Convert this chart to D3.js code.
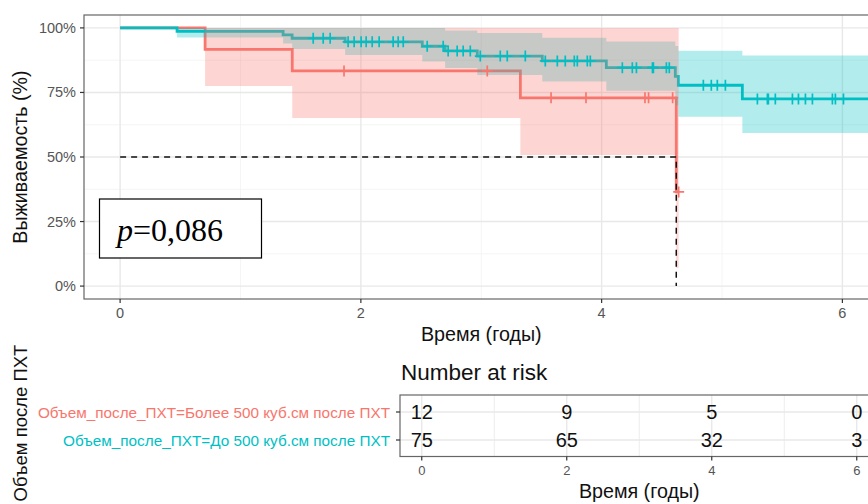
<!DOCTYPE html>
<html><head><meta charset="utf-8">
<script src="https://cdn.jsdelivr.net/npm/d3@7"></script>
<style>body{margin:0;background:#fff} svg{display:block}</style>
</head><body>
<svg id="c" width="868" height="504"></svg>
<script>
// ---------- data ----------
const strata = ["Объем_после_ПХТ=Более 500 куб.см после ПХТ", "Объем_после_ПХТ=До 500 куб.см после ПХТ"];
const colors = ["#F8766D", "#00BFC4"];

const redTime  = [0, 0.706, 1.43, 3.325, 4.62, 4.64];
const redSurv  = [1, 0.9167, 0.8333, 0.7292, 0.3646, 0.3646];
const redLower = [1, 0.775, 0.651, 0.508, 0.07, 0.07];
const redUpper = [1, 1, 1, 1, 1, 1];
const redCensor = [1.86, 3.05, 3.58, 3.87, 4.36, 4.39, 4.59, 4.64];

const tealTime  = [0, 0.473, 1.354, 1.429, 1.869, 2.51, 2.70, 2.967, 3.507, 4.039, 4.612, 4.637, 5.169, 6.35];
const tealSurv  = [1, 0.9867, 0.9733, 0.96, 0.946, 0.929, 0.911, 0.891, 0.872, 0.846, 0.812, 0.778, 0.725, 0.725];
const tealLower = [1, 0.963, 0.94, 0.918, 0.895, 0.87, 0.845, 0.818, 0.792, 0.757, 0.70, 0.656, 0.593, 0.593];
const tealUpper = [1, 1, 1, 1, 1, 1, 0.99, 0.98, 0.962, 0.947, 0.93, 0.912, 0.893, 0.893];
const tealCensor = [1.604, 1.687, 1.745, 1.894, 1.944, 2.002, 2.044, 2.094, 2.152, 2.268, 2.31, 2.352,
  2.551, 2.684, 2.725, 2.8, 2.85, 2.909, 2.992, 3.158, 3.216, 3.366,
  3.532, 3.632, 3.698, 3.773, 3.798, 3.881, 3.906,
  4.172, 4.255, 4.289, 4.422, 4.43, 4.538, 4.562,
  4.845, 4.911, 4.961, 5.028,
  5.294, 5.377, 5.385, 5.443, 5.585, 5.635, 5.693, 5.751, 5.917, 5.942, 6.009];

const medianTime = 4.62;
const xTicks = [0, 2, 4, 6];
const yTicks = [0, 0.25, 0.5, 0.75, 1];
const yTickLabels = ["0%", "25%", "50%", "75%", "100%"];
const riskTimes = [0, 2, 4, 6];
const riskRed = [12, 9, 5, 0];
const riskTeal = [75, 65, 32, 3];
const pText = "=0,086";

// ---------- layout ----------
const svg = d3.select("#c");
const font = "'Liberation Sans', Arial, Helvetica, sans-serif";
const titleSize = 19.7;
const P = {l: 84, t: 15, r: 878.5, b: 299};
const x = d3.scaleLinear().domain([-0.3, 6.3]).range([P.l, P.r]);
const y = d3.scaleLinear().domain([-0.05, 1.05]).range([P.b, P.t]);

const defs = svg.append("defs");
defs.append("clipPath").attr("id", "clipMain").append("rect")
  .attr("x", P.l).attr("y", P.t).attr("width", P.r - P.l).attr("height", P.b - P.t);

const g = svg.append("g");
// grid
const minorX = [1, 3, 5], minorY = [0.125, 0.375, 0.625, 0.875];
g.selectAll(".mgx").data(minorX).join("line").attr("x1", d => x(d)).attr("x2", d => x(d))
  .attr("y1", P.t).attr("y2", P.b).attr("stroke", "#f2f2f2").attr("stroke-width", 0.8);
g.selectAll(".mgy").data(minorY).join("line").attr("y1", d => y(d)).attr("y2", d => y(d))
  .attr("x1", P.l).attr("x2", P.r).attr("stroke", "#f2f2f2").attr("stroke-width", 0.8);
g.selectAll(".gx").data(xTicks).join("line").attr("x1", d => x(d)).attr("x2", d => x(d))
  .attr("y1", P.t).attr("y2", P.b).attr("stroke", "#e8e8e8").attr("stroke-width", 1.4);
g.selectAll(".gy").data(yTicks).join("line").attr("y1", d => y(d)).attr("y2", d => y(d))
  .attr("x1", P.l).attr("x2", P.r).attr("stroke", "#e8e8e8").attr("stroke-width", 1.4);

const plot = g.append("g").attr("clip-path", "url(#clipMain)");
const series = [
  {time: redTime, surv: redSurv, lo: redLower, hi: redUpper, cens: redCensor, col: colors[0]},
  {time: tealTime, surv: tealSurv, lo: tealLower, hi: tealUpper, cens: tealCensor, col: colors[1]}
];
const line = d3.line().x(d => x(d[0])).y(d => y(d[1])).curve(d3.curveStepAfter);
const area = d3.area().x(d => x(d[0])).y0(d => y(d[1])).y1(d => y(d[2])).curve(d3.curveStepAfter);
function survAt(s, t) {
  let v = s.surv[0];
  for (let i = 0; i < s.time.length; i++) if (s.time[i] <= t) v = s.surv[i];
  return v;
}
series.forEach(s => {
  plot.append("path").attr("d", line(s.time.map((t, i) => [t, s.surv[i]])))
    .attr("fill", "none").attr("stroke", s.col).attr("stroke-width", 2.8);
});
[series[1], series[0]].forEach(s => {
  plot.append("path").attr("d", area(s.time.map((t, i) => [t, s.lo[i], s.hi[i]])))
    .attr("fill", s.col).attr("fill-opacity", 0.3).attr("stroke", "none");
});
series.forEach(s => {
  plot.selectAll(null).data(s.cens).join("path")
    .attr("transform", d => `translate(${x(d)},${y(survAt(s, d))})`)
    .attr("d", "M-5.5,0H5.5M0,-5.5V5.5").attr("stroke", s.col).attr("stroke-width", 1.7);
});
// median lines
plot.append("path")
  .attr("d", `M${x(0)},${y(0.5)}H${x(medianTime)}V${y(0)}`)
  .attr("fill", "none").attr("stroke", "#111").attr("stroke-width", 1.5).attr("stroke-dasharray", "6,5");

// border
g.append("rect").attr("x", P.l).attr("y", P.t).attr("width", P.r - P.l).attr("height", P.b - P.t)
  .attr("fill", "none").attr("stroke", "#666").attr("stroke-width", 1.2);

// axes ticks
g.selectAll(".ty").data(yTicks).join("line").attr("x1", P.l - 4).attr("x2", P.l)
  .attr("y1", d => y(d)).attr("y2", d => y(d)).attr("stroke", "#333").attr("stroke-width", 1.2);
g.selectAll(".tyl").data(yTicks).join("text").attr("x", P.l - 8).attr("y", d => y(d) + 5)
  .attr("text-anchor", "end").attr("font-family", font).attr("font-size", 14.5).attr("fill", "#555")
  .text((d, i) => yTickLabels[i]);
g.selectAll(".tx").data(xTicks).join("line").attr("y1", P.b).attr("y2", P.b + 4)
  .attr("x1", d => x(d)).attr("x2", d => x(d)).attr("stroke", "#333").attr("stroke-width", 1.2);
g.selectAll(".txl").data(xTicks).join("text").attr("x", d => x(d)).attr("y", 318)
  .attr("text-anchor", "middle").attr("font-family", font).attr("font-size", 14.5).attr("fill", "#555")
  .text(d => d);
g.append("text").attr("x", (P.l + P.r) / 2).attr("y", 341).attr("text-anchor", "middle")
  .attr("font-family", font).attr("font-size", titleSize).attr("fill", "#111").text("Время (годы)");
g.append("text").attr("transform", `translate(27,${(P.t + P.b) / 2}) rotate(-90)`).attr("text-anchor", "middle")
  .attr("font-family", font).attr("font-size", titleSize).attr("fill", "#111").text("Выживаемость (%)");

// p-value box
g.append("rect").attr("x", 99.5).attr("y", 199).attr("width", 162).attr("height", 59)
  .attr("fill", "#fff").attr("stroke", "#000").attr("stroke-width", 1.2);
const pt = g.append("text").attr("x", 117).attr("y", 241)
  .attr("font-family", "'Liberation Serif', 'Times New Roman', serif").attr("font-size", 32).attr("fill", "#000");
pt.append("tspan").attr("font-style", "italic").text("p");
pt.append("tspan").text(pText);

// ---------- risk table ----------
const T = {l: 400, t: 395, r: 878.5, b: 456.5};
const tx = d3.scaleLinear().domain([-0.3, 6.3]).range([T.l, T.r]);
const ty = d3.scalePoint().domain([0, 1]).range([412, 440]);
const tg = svg.append("g");
tg.append("text").attr("x", 401).attr("y", 380).attr("font-family", font).attr("font-size", 22.5)
  .attr("fill", "#111").text("Number at risk");
tg.selectAll(".tgm").data(minorX).join("line").attr("x1", d => tx(d)).attr("x2", d => tx(d))
  .attr("y1", T.t).attr("y2", T.b).attr("stroke", "#ededed").attr("stroke-width", 1);
tg.selectAll(".tgx").data(xTicks).join("line").attr("x1", d => tx(d)).attr("x2", d => tx(d))
  .attr("y1", T.t).attr("y2", T.b).attr("stroke", "#e8e8e8").attr("stroke-width", 1.4);
tg.selectAll(".tgy").data([0, 1]).join("line").attr("y1", d => ty(d)).attr("y2", d => ty(d))
  .attr("x1", T.l).attr("x2", T.r).attr("stroke", "#e8e8e8").attr("stroke-width", 1.4);
const rows = [riskRed, riskTeal];
rows.forEach((r, ri) => {
  tg.selectAll(null).data(riskTimes).join("text")
    .attr("x", d => tx(d)).attr("y", ty(ri) + 7).attr("text-anchor", "middle")
    .attr("font-family", font).attr("font-size", 20).attr("fill", "#111")
    .text((d, i) => r[i]);
});
tg.append("rect").attr("x", T.l).attr("y", T.t).attr("width", T.r - T.l).attr("height", T.b - T.t)
  .attr("fill", "none").attr("stroke", "#666").attr("stroke-width", 1.2);
tg.selectAll(".tyt").data([0, 1]).join("line").attr("x1", T.l - 4).attr("x2", T.l)
  .attr("y1", d => ty(d)).attr("y2", d => ty(d)).attr("stroke", "#333").attr("stroke-width", 1.2);
tg.selectAll(".tyl").data(strata).join("text").attr("x", T.l - 10).attr("y", (d, i) => ty(i) + 5.5)
  .attr("text-anchor", "end").attr("font-family", font).attr("font-size", 15.3)
  .attr("fill", (d, i) => colors[i]).text(d => d);
tg.selectAll(".txt").data(riskTimes).join("line").attr("y1", T.b).attr("y2", T.b + 4)
  .attr("x1", d => tx(d)).attr("x2", d => tx(d)).attr("stroke", "#333").attr("stroke-width", 1.2);
tg.selectAll(".txtl").data(riskTimes).join("text").attr("x", d => tx(d)).attr("y", 475)
  .attr("text-anchor", "middle").attr("font-family", font).attr("font-size", 13).attr("fill", "#555")
  .text(d => d);
tg.append("text").attr("x", (T.l + T.r) / 2).attr("y", 498).attr("text-anchor", "middle")
  .attr("font-family", font).attr("font-size", titleSize).attr("fill", "#111").text("Время (годы)");
tg.append("text").attr("transform", `translate(27,423) rotate(-90)`).attr("text-anchor", "middle")
  .attr("font-family", font).attr("font-size", 18.5).attr("fill", "#111").text("Объем после ПХТ");
</script>
</body></html>
